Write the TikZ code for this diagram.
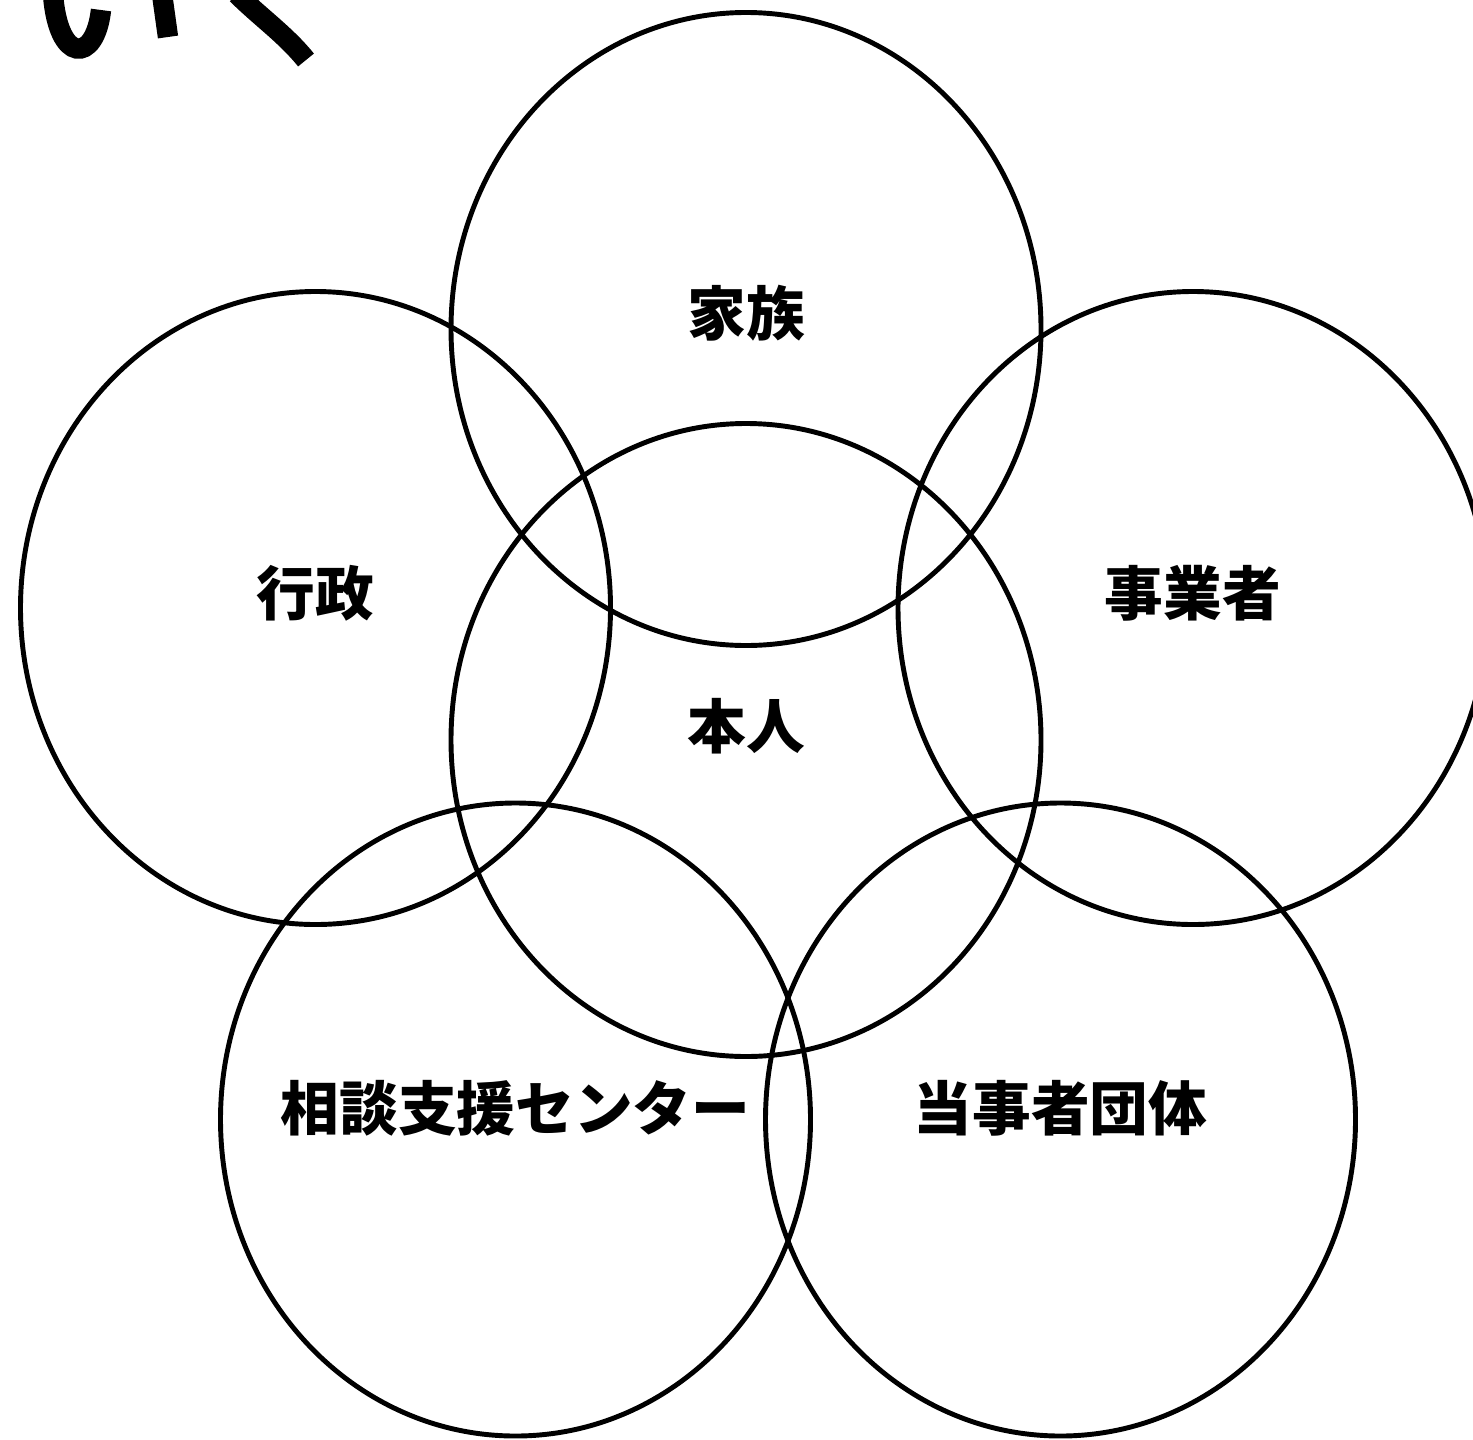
\documentclass[tikz,border=0pt]{standalone}
\usepackage{fontspec}
\newfontfamily\jpfont{Noto Sans CJK JP}
\usetikzlibrary{
    shapes.geometric,
    positioning,
    calc
}
\tikzset{
    % Rings
    ring/.style={ellipse,draw=black,line width=1.4pt,inner sep=0pt,outer sep=0pt,minimum width=5.9cm,minimum height=6.33cm},
    ring label/.style={font=\jpfont\bfseries\fontsize{16.7pt}{19pt}\selectfont,inner sep=0pt},
    %
    % Brush strokes
    brush/.style={line width=5.8pt,line cap=butt}
}

\begin{document}
\begin{tikzpicture}
    \useasboundingbox (0,0) rectangle (14.73,14.39);
    \clip (0,0) rectangle (14.73,14.39);

    \node[ring] (kazoku) at (7.46,11.10) {};
    \node[ring] (honnin) at (7.46,6.99) {};
    \node[ring] (gyosei) at (3.155,8.31) {};
    \node[ring] (jigyosha) at (11.93,8.31) {};
    \node[ring] (soudan) at (5.155,3.195) {};
    \node[ring] (dantai) at (10.605,3.195) {};

    \node[ring label] (kazoku-t) at ([yshift=1.6mm]kazoku.center) {家族};
    \node[ring label] (honnin-t) at ([yshift=1.4mm]honnin.center) {本人};
    \node[ring label] (gyosei-t) at ([yshift=1.5mm]gyosei.center) {行政};
    \node[ring label] (jigyosha-t) at ([yshift=1.5mm]jigyosha.center) {事業者};
    \node[ring label] (soudan-t) at ([yshift=1.1mm]soudan.center) {相談支援センター};
    \node[ring label] (dantai-t) at ([yshift=1.1mm]dantai.center) {当事者団体};

    % strokes cut off at the top edge
    \draw[brush] (0.53,14.45) .. controls (0.58,13.75) and (0.95,13.75) .. (1.01,14.29);
    \draw[brush] (1.62,14.45) -- (1.68,14.02);
    \draw[brush] (2.37,14.45) .. controls (2.6,14.22) and (2.86,14.04) .. (3.06,13.79);
\end{tikzpicture}
\end{document}
